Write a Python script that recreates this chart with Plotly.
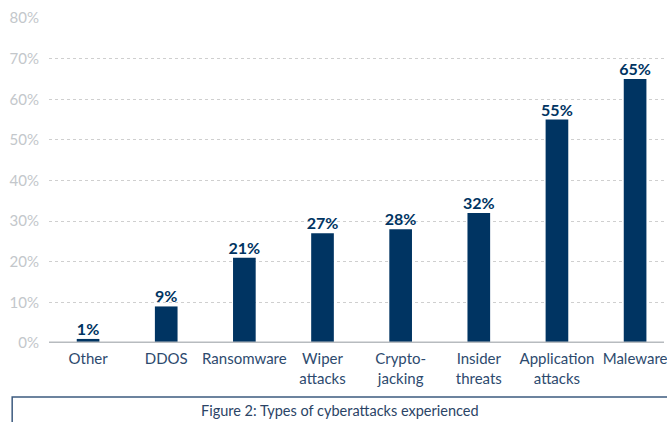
import plotly.graph_objects as go

categories = ["Other", "DDOS", "Ransomware", "Wiper<br>attacks", "Crypto-<br>jacking",
              "Insider<br>threats", "Application<br>attacks", "Maleware"]
values = [1, 9, 21, 27, 28, 32, 55, 65]
y_ticks = [0, 10, 20, 30, 40, 50, 60, 70, 80]
y_tick_labels = [f"{v}%" for v in y_ticks]
caption = "Figure 2: Types of cyberattacks experienced"

NAVY = "#003462"
FONT = "Lato"

W, H = 667, 422
left, right, top, bottom = 49, 0, 18, 79
plot_w = W - left - right
plot_h = H - top - bottom


def px_to_paper_x(px):
    return (px - left) / plot_w


def px_to_paper_y(py):
    return (H - bottom - py) / plot_h


xs = list(range(len(categories)))

fig = go.Figure()
fig.add_trace(go.Bar(
    x=xs,
    y=values,
    width=0.29,
    marker=dict(color=NAVY, line=dict(width=0)),
    hoverinfo="skip",
))
# value labels above each bar
fig.add_trace(go.Scatter(
    x=xs,
    y=values,
    mode="text",
    text=[f"<b>{v}%</b>" for v in values],
    textposition="top center",
    textfont=dict(family=FONT, size=16, color=NAVY),
    cliponaxis=False,
    hoverinfo="skip",
))

fig.update_layout(
    width=W,
    height=H,
    margin=dict(l=left, r=right, t=top, b=bottom),
    paper_bgcolor="white",
    plot_bgcolor="white",
    showlegend=False,
    font=dict(family=FONT),
    xaxis=dict(
        range=[-0.5, 7.37],
        tickmode="array",
        tickvals=xs,
        ticktext=categories,
        tickfont=dict(family=FONT, size=15, color="#2d4a6e"),
        ticklabeloverflow="allow",
        showgrid=False,
        zeroline=False,
        showline=False,
        ticks="outside",
        ticklen=2,
        tickcolor="rgba(0,0,0,0)",
        fixedrange=True,
    ),
    yaxis=dict(
        range=[0, 80],
        tickmode="array",
        tickvals=y_ticks,
        ticktext=y_tick_labels,
        tickfont=dict(family=FONT, size=15, color="#c3c7cb"),
        showgrid=True,
        gridcolor="#cfcfcf",
        griddash="dot",
        gridwidth=1,
        zeroline=False,
        showline=False,
        ticks="outside",
        ticklen=6,
        tickcolor="rgba(0,0,0,0)",
        fixedrange=True,
    ),
    shapes=[
        # baseline
        dict(type="line", xref="paper", yref="y", x0=0, x1=1, y0=0, y1=0,
             line=dict(color="#b7bbbf", width=3), layer="above"),
        # caption frame
        dict(type="rect", xref="paper", yref="paper",
             x0=px_to_paper_x(12), x1=px_to_paper_x(680),
             y0=px_to_paper_y(397), y1=px_to_paper_y(440),
             line=dict(color="#3d5b7f", width=1.5), fillcolor="rgba(0,0,0,0)"),
    ],
    annotations=[
        dict(text=caption, xref="paper", yref="paper",
             x=px_to_paper_x(341), y=px_to_paper_y(411),
             xanchor="center", yanchor="middle", showarrow=False,
             font=dict(family=FONT, size=14.5, color="#2b4466")),
    ],
)

fig.write_html("out.html")
